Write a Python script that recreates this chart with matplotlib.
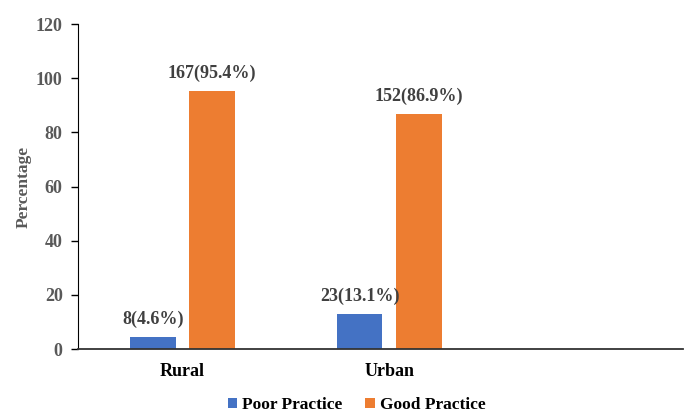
import matplotlib.pyplot as plt
import numpy as np

# data
categories = ['Rural', 'Urban']
series_names = ['Poor Practice', 'Good Practice']
poor_pct = [4.6, 13.1]
good_pct = [95.4, 86.9]
poor_labels = ['8(4.6%)', '23(13.1%)']
good_labels = ['167(95.4%)', '152(86.9%)']

plt.rcParams['font.family'] = ['Liberation Serif', 'DejaVu Serif']
plt.rcParams['font.weight'] = 'bold'

blue = '#4472C4'
orange = '#ED7D31'
tick_gray = '#595959'
label_gray = '#404040'

fig = plt.figure(figsize=(6.86, 4.19), dpi=100)
ax = fig.add_axes([0.1137, 0.167, 0.8819, 0.7757])

x = np.arange(len(categories)) + 0.5
width = 0.22
offset = 0.1435

b1 = ax.bar(x - offset, poor_pct, width, color=blue, label=series_names[0])
b2 = ax.bar(x + offset, good_pct, width, color=orange, label=series_names[1])

for bars, labels in [(b1, poor_labels), (b2, good_labels)]:
    for rect, txt in zip(bars, labels):
        ax.annotate(txt, (rect.get_x() + rect.get_width() / 2, rect.get_height()),
                    xytext=(0, 6), textcoords='offset points',
                    ha='center', va='bottom', fontsize=13,
                    fontweight='bold', color=label_gray)

ax.set_xlim(-0.005, 2.92)
ax.set_ylim(0, 120)
ax.set_yticks(range(0, 121, 20))
ax.set_xticks(x)
ax.set_xticklabels(categories, fontsize=13, fontweight='bold', color='black')
ax.tick_params(axis='x', length=0, pad=10)
ax.tick_params(axis='y', labelsize=13, labelcolor=tick_gray, length=5,
               width=1, color='black', pad=6)
for lbl in ax.get_yticklabels():
    lbl.set_fontweight('bold')

ax.set_ylabel('Percentage', fontsize=12.5, fontweight='bold', color=tick_gray,
              labelpad=3)

ax.spines['top'].set_visible(False)
ax.spines['right'].set_visible(False)
ax.spines['left'].set_color('black')
ax.spines['bottom'].set_color('#333333')
ax.spines['bottom'].set_linewidth(1.3)

leg = fig.legend(handles=[b1, b2], labels=series_names, loc='center',
                 bbox_to_anchor=(0.52, 0.033), ncol=2, frameon=False,
                 fontsize=12.5, handlelength=0.55, handleheight=0.55,
                 handletextpad=0.3, columnspacing=1.3)
for t in leg.get_texts():
    t.set_fontweight('bold')

fig.savefig('out.png', dpi=100)
